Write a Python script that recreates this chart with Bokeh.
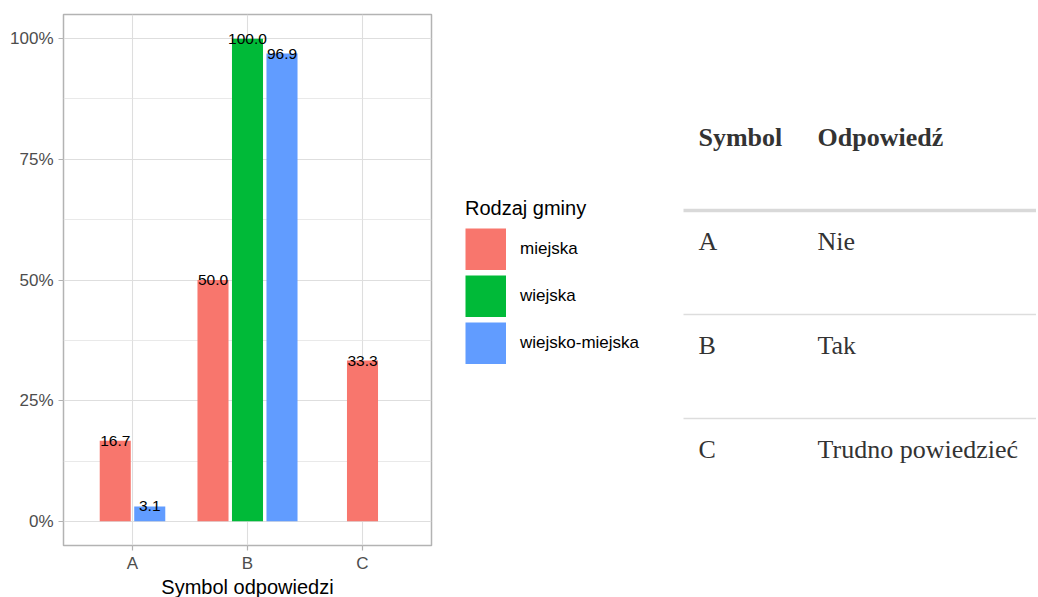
from bokeh.plotting import figure
from bokeh.layouts import row
from bokeh.models import Range1d, FixedTicker, Legend, LegendItem, ColumnDataSource
from bokeh.core.properties import value
from bokeh.embed import file_html
from bokeh.resources import INLINE

# ---------------- data ----------------
categories = ["A", "B", "C"]
groups = ["miejska", "wiejska", "wiejsko-miejska"]
colors = ["#F8766D", "#00BA38", "#619CFF"]
miejska = [16.7, 50.0, 33.3]
wiejska = [None, 100.0, None]
wiejsko_miejska = [3.1, 96.9, None]
series = [miejska, wiejska, wiejsko_miejska]
y_ticks = [0, 25, 50, 75, 100]
y_tick_labels = ["0%", "25%", "50%", "75%", "100%"]
x_title = "Symbol odpowiedzi"
legend_title = "Rodzaj gminy"
table_header = ["Symbol", "Odpowiedź"]
table_symbols = ["A", "B", "C"]
table_answers = ["Nie", "Tak", "Trudno powiedzieć"]

DODGE = 0.3
BAR_W = 0.27
SANS = value("Liberation Sans")
SERIF = value("Liberation Serif")

LEFT, TOP, BOTTOM, RIGHT = 63, 14, 51, 2
FRAME_W, FRAME_H = 368, 531
SWATCH = 42

# ---------------- chart ----------------
p = figure(frame_width=FRAME_W, frame_height=FRAME_H,
           x_range=Range1d(0.4, 3.6), y_range=Range1d(-5, 105),
           output_backend="svg", toolbar_location=None, title=None,
           min_border_left=LEFT, min_border_right=RIGHT, min_border_top=TOP,
           min_border_bottom=BOTTOM)

for gi, g in enumerate(groups):
    xs, ys, labels = [], [], []
    for ci, cat in enumerate(categories):
        if series[gi][ci] is None:
            continue
        present = [k for k in range(len(groups)) if series[k][ci] is not None]
        n = len(present)
        pos = present.index(gi)
        xs.append(ci + 1 + (pos - (n - 1) / 2) * DODGE)
        ys.append(series[gi][ci])
        labels.append("%.1f" % series[gi][ci])
    src = ColumnDataSource(dict(x=xs, top=ys, label=labels))
    p.vbar(x="x", top="top", bottom=0, width=BAR_W, source=src,
           fill_color=colors[gi], line_color=None)
    p.text(x="x", y="top", text="label", source=src, text_align="center",
           text_baseline="middle", text_font=SANS, text_font_size="15.5px",
           text_color="black")

# axes
p.xaxis.ticker = FixedTicker(ticks=[i + 1 for i in range(len(categories))])
p.xaxis.major_label_overrides = {i + 1: c for i, c in enumerate(categories)}
minor = [(y_ticks[i] + y_ticks[i + 1]) / 2 for i in range(len(y_ticks) - 1)]
p.yaxis.ticker = FixedTicker(ticks=y_ticks, minor_ticks=minor)
p.yaxis.major_label_overrides = {t: l for t, l in zip(y_ticks, y_tick_labels)}
p.xaxis.axis_label = x_title
p.xaxis.axis_label_text_font = "Liberation Sans"
p.xaxis.axis_label_text_font_size = "20px"
p.xaxis.axis_label_text_font_style = "normal"
p.xaxis.axis_label_text_color = "black"
p.xaxis.axis_label_standoff = 0
for ax in (p.xaxis, p.yaxis):
    ax.axis_line_color = None
    ax.major_tick_line_color = "#B3B3B3"
    ax.major_tick_line_width = 1.2
    ax.major_tick_out = 5
    ax.major_tick_in = 0
    ax.minor_tick_line_color = None
    ax.major_label_text_font = "Liberation Sans"
    ax.major_label_text_font_size = "17px"
    ax.major_label_text_color = "#4D4D4D"
p.xaxis.major_label_standoff = 3
p.yaxis.major_label_standoff = 5

p.xgrid.grid_line_color = "#DEDEDE"
p.xgrid.grid_line_width = 1.1
p.ygrid.grid_line_color = "#DEDEDE"
p.ygrid.grid_line_width = 1.1
p.ygrid.minor_grid_line_color = "#E3E3E3"
p.ygrid.minor_grid_line_width = 0.8
p.outline_line_color = "#B3B3B3"
p.outline_line_width = 1.5

# ---------------- legend + table panel (coordinates = page pixels) ----------------
TX0 = LEFT + FRAME_W + RIGHT
TW = 1036 - TX0
t = figure(frame_width=TW, frame_height=FRAME_H,
           x_range=Range1d(TX0, TX0 + TW), y_range=Range1d(TOP + FRAME_H, TOP),
           output_backend="svg", toolbar_location=None, title=None,
           min_border_left=0, min_border_right=0, min_border_top=TOP,
           min_border_bottom=BOTTOM, x_axis_type=None, y_axis_type=None)
t.grid.visible = False
t.outline_line_color = None

legend_items = []
nan = float("nan")
for gi, g in enumerate(groups):
    # legend key only (NaN data draws nothing in the plot area)
    key = t.line(x=[nan, nan], y=[nan, nan], line_color=colors[gi],
                 line_width=SWATCH, line_cap="butt")
    legend_items.append(LegendItem(label=g, renderers=[key]))

legend = Legend(items=legend_items,
                title=legend_title, location=(32, 181), orientation="vertical",
                glyph_width=41, glyph_height=SWATCH, spacing=5, label_standoff=14,
                padding=0, margin=0, border_line_color=None, background_fill_alpha=0,
                title_text_font="Liberation Sans", title_text_font_size="20px",
                title_text_font_style="normal", title_text_color="black", title_standoff=8,
                label_text_font="Liberation Sans", label_text_font_size="17px",
                label_text_color="black", label_height=20)
t.add_layout(legend, "center")

header_line_y = 210
pitch = 104
col_x = [698, 817]
line_x0, line_x1 = 683, TX0 + TW

t.text(x=col_x, y=[header_line_y - 73] * 2, text=table_header, text_font=SERIF,
       text_font_size="26px", text_font_style="bold", text_color="#333333",
       text_baseline="middle", text_align="left")
t.segment(x0=[line_x0], y0=[header_line_y], x1=[line_x1], y1=[header_line_y],
          line_color="#D9D9D9", line_width=3.5)
row_y = [header_line_y + 31 + i * pitch for i in range(len(table_symbols))]
t.text(x=[col_x[0]] * len(table_symbols), y=row_y, text=table_symbols, text_font=SERIF,
       text_font_size="26px", text_color="#333333", text_baseline="middle")
t.text(x=[col_x[1]] * len(table_answers), y=row_y, text=table_answers, text_font=SERIF,
       text_font_size="26px", text_color="#333333", text_baseline="middle")
sep_y = [header_line_y + (i + 1) * pitch for i in range(len(table_symbols) - 1)]
t.segment(x0=[line_x0] * len(sep_y), y0=sep_y, x1=[line_x1] * len(sep_y), y1=sep_y,
          line_color="#DDDDDD", line_width=1.5)

layout = row(p, t)
open("out.html", "w").write(file_html(layout, INLINE))
